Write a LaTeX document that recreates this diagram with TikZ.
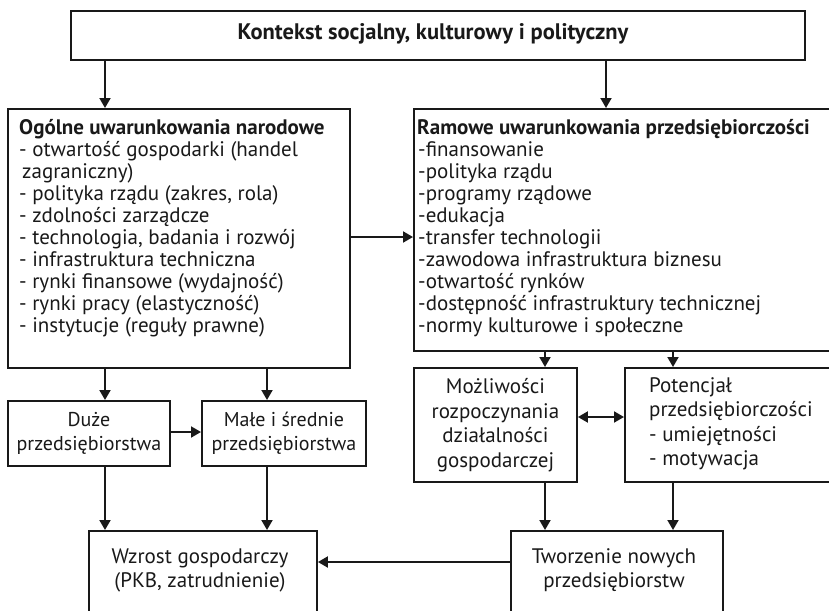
\documentclass[tikz,border=0pt]{standalone}
\usepackage{fontspec}
\setmainfont{PT Sans}
\usetikzlibrary{arrows.meta}
\tikzset{
  box/.style={draw=black!90, line width=1.9pt, inner sep=0pt, anchor=north west},
  arr/.style={line width=1.9pt, draw=black!90, -{Triangle[length=10pt,width=11pt]}},
  darr/.style={line width=1.9pt, draw=black!90, {Triangle[length=10pt,width=11pt]}-{Triangle[length=10pt,width=11pt]}},
  txt/.style={inner sep=0pt, font=\fontsize{21}{22}\selectfont, text=black!90},
  ltxt/.style={txt, anchor=north west, align=left},
  ctxt/.style={txt, align=center},
}
\begin{document}
\begin{tikzpicture}[x=1pt,y=-1pt]
\clip (0,0) rectangle (829,610);
\fill[white] (0,0) rectangle (829,610);
% boxes
\node[box, minimum width=734pt, minimum height=49pt] (top) at (70,10) {};
\node[box, minimum width=342pt, minimum height=259pt] (gen) at (7,108) {};
\node[box, minimum width=430pt, minimum height=242pt] (ram) at (413,108) {};
\node[box, minimum width=162pt, minimum height=65pt] (duze) at (7,400) {};
\node[box, minimum width=164pt, minimum height=65pt] (male) at (201,400) {};
\node[box, minimum width=163pt, minimum height=114pt] (moz) at (413,367) {};
\node[box, minimum width=220pt, minimum height=114pt] (pot) at (624,367) {};
\node[box, minimum width=228pt, minimum height=100pt] (wzr) at (88,530) {};
\node[box, minimum width=212pt, minimum height=100pt] (two) at (510,530) {};
% texts
\node[ctxt, font=\fontsize{22.5}{24}\selectfont\bfseries] (ttop) at (433,34) {Kontekst socjalny, kulturowy i polityczny};
\node[ltxt] (tgen) at (19,119) {\textbf{Ogólne uwarunkowania narodowe}\\
- otwartość gospodarki (handel\\
\hspace{3pt}zagraniczny)\\
- polityka rządu (zakres, rola)\\
- zdolności zarządcze\\
- technologia, badania i rozwój\\
- infrastruktura techniczna\\
- rynki finansowe (wydajność)\\
- rynki pracy (elastyczność)\\
- instytucje (reguły prawne)};
\node[ltxt] (tram) at (417,119) {\textbf{Ramowe uwarunkowania przedsiębiorczości}\\
\hspace{1pt}-finansowanie\\
\hspace{1pt}-polityka rządu\\
\hspace{1pt}-programy rządowe\\
\hspace{1pt}-edukacja\\
\hspace{1pt}-transfer technologii\\
\hspace{1pt}-zawodowa infrastruktura biznesu\\
\hspace{1pt}-otwartość rynków\\
\hspace{1pt}-dostępność infrastruktury technicznej\\
\hspace{1pt}-normy kulturowe i społeczne};
\node[ctxt, font=\fontsize{20}{24}\selectfont] (tduze) at (duze.center) {Duże\\przedsiębiorstwa};
\node[ctxt, font=\fontsize{20}{24}\selectfont] (tmale) at (male.center) {Małe i średnie\\przedsiębiorstwa};
\node[ctxt, font=\fontsize{21}{24.5}\selectfont] (tmoz) at (moz.center) {Możliwości\\rozpoczynania\\działalności\\gospodarczej};
\node[ltxt, font=\fontsize{21}{24.5}\selectfont] (tpot) at (649,377) {Potencjał\\przedsiębiorczości\\- umiejętności\\- motywacja};
\node[ctxt, font=\fontsize{21}{24}\selectfont] (twzr) at (200,570) {Wzrost gospodarczy\\(PKB, zatrudnienie)};
\node[ctxt, font=\fontsize{21}{24}\selectfont] (ttwo) at (614,570) {Tworzenie nowych\\przedsiębiorstw};
% x-positions of vertical connectors
\coordinate (xa) at (105,0);
\coordinate (xb) at (606,0);
\coordinate (xc) at (267,0);
\coordinate (xd) at (545,0);
\coordinate (xe) at (673,0);
\coordinate (ya) at (0,237);
\coordinate (yb) at (0,432);
\coordinate (yc) at (0,417);
\coordinate (yd) at (0,562);
% connectors
\draw[arr] (top.south -| xa) -- (gen.north -| xa);
\draw[arr] (top.south -| xb) -- (ram.north -| xb);
\draw[arr] (gen.east |- ya) -- (ram.west |- ya);
\draw[arr] (gen.south -| xa) -- (duze.north -| xa);
\draw[arr] (gen.south -| xc) -- (male.north -| xc);
\draw[arr] (duze.east |- yb) -- (male.west |- yb);
\draw[arr] (duze.south -| xa) -- (wzr.north -| xa);
\draw[arr] (male.south -| xc) -- (wzr.north -| xc);
\draw[arr] (ram.south -| xd) -- (moz.north -| xd);
\draw[arr] (ram.south -| xe) -- (pot.north -| xe);
\draw[darr] (moz.east |- yc) -- (pot.west |- yc);
\draw[arr] (moz.south -| xd) -- (two.north -| xd);
\draw[arr] (pot.south -| xe) -- (two.north -| xe);
\draw[arr] (two.west |- yd) -- (wzr.east |- yd);
\end{tikzpicture}
\end{document}
